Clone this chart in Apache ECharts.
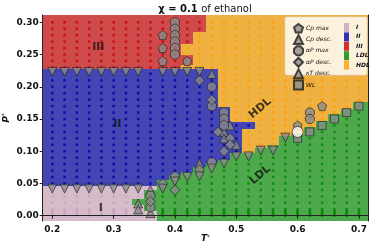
<!DOCTYPE html>
<html><head><meta charset="utf-8">
<script src="https://cdn.jsdelivr.net/npm/echarts@6/dist/echarts.min.js"></script>
<style>html,body{margin:0;padding:0;background:#fff}#c{width:374px;height:249px}</style>
</head><body><div id="c"></div>
<script>
// ---------------- data ----------------
const tCols = [0.20,0.22,0.24,0.26,0.28,0.30,0.32,0.34,0.36,0.38,0.40,0.42,0.44,0.46,0.48,0.50,0.52,0.54,0.56,0.58,0.60,0.62,0.64,0.66,0.68,0.70];
const phaseNames = ['I','II','III','LDL','HDL'];
// phase stack of each column, bottom to top: [phase, upper P]
const colStacks = [
  [['I',0.046],['II',0.227],['III',1]],
  [['I',0.046],['II',0.227],['III',1]],
  [['I',0.046],['II',0.227],['III',1]],
  [['I',0.046],['II',0.227],['III',1]],
  [['I',0.046],['II',0.227],['III',1]],
  [['I',0.046],['II',0.227],['III',1]],
  [['I',0.046],['II',0.227],['III',1]],
  [['I',0.0166],['LDL',0.0255],['I',0.046],['II',0.227],['III',1]],
  [['I',0.007],['LDL',0.040],['I',0.046],['II',0.227],['III',1]],
  [['LDL',0.055],['II',0.227],['III',1]],
  [['LDL',0.063],['II',0.227],['III',1]],
  [['LDL',0.068],['II',0.227],['HDL',0.234],['III',0.249],['HDL',0.267],['III',1]],
  [['LDL',0.076],['II',0.227],['HDL',0.285],['III',1]],
  [['LDL',0.081],['II',0.227],['HDL',1]],
  [['LDL',0.086],['II',0.169],['HDL',1]],
  [['LDL',0.097],['II',0.146],['HDL',1]],
  [['LDL',0.098],['HDL',0.135],['II',0.146],['HDL',1]],
  [['LDL',0.1045],['HDL',1]],
  [['LDL',0.1097],['HDL',1]],
  [['LDL',0.124],['HDL',1]],
  [['LDL',0.126],['HDL',1]],
  [['LDL',0.137],['HDL',1]],
  [['LDL',0.147],['HDL',1]],
  [['LDL',0.157],['HDL',1]],
  [['LDL',0.166],['HDL',1]],
  [['LDL',0.176],['HDL',1]]
];
const pGrid = [0.0,0.0025,0.005,0.0075,0.01,0.02,0.03,0.04,0.05,0.06,0.07,0.08,0.09,0.10,0.11,0.12,0.13,0.14,0.15,0.16,0.17,0.18,0.19,0.20,0.21,0.22,0.23,0.24,0.25,0.26,0.27,0.28,0.29,0.30];

const cpMax   = [[0.38,0.28],[0.38,0.26],[0.38,0.24],[0.42,0.24],[0.60,0.14],[0.64,0.17]];
const cpDesc  = [[0.46,0.22],[0.48,0.13],[0.48,0.12],[0.49,0.14],[0.50,0.11],[0.44,0.081],[0.36,0.04],[0.36,0.004],[0.34,0.019],[0.34,0.0098]];
const aMax    = [[0.40,0.30],[0.40,0.29],[0.40,0.28],[0.40,0.27],[0.40,0.26],[0.40,0.25],[0.46,0.20],[0.46,0.17],[0.48,0.16],[0.48,0.15],[0.48,0.14],[0.62,0.16],[0.62,0.15],[0.46,0.083],[0.40,0.061],[0.36,0.031],[0.36,0.013]];
const aDesc   = [[0.44,0.21],[0.46,0.18],[0.47,0.13],[0.49,0.12],[0.49,0.11],[0.48,0.10],[0.44,0.071],[0.40,0.040],[0.38,0.050],[0.36,0.022]];
const kDesc   = [[0.20,0.223],[0.22,0.223],[0.24,0.223],[0.26,0.223],[0.28,0.223],[0.30,0.223],[0.32,0.223],[0.34,0.223],[0.38,0.223],[0.40,0.223],[0.42,0.223],[0.44,0.223],
                 [0.20,0.042],[0.22,0.042],[0.24,0.042],[0.26,0.042],[0.28,0.042],[0.30,0.042],[0.32,0.042],[0.34,0.042],[0.38,0.042],
                 [0.40,0.053],[0.42,0.060],[0.44,0.061],[0.46,0.073],[0.48,0.081],[0.50,0.092],[0.52,0.092],[0.54,0.101],[0.56,0.101],[0.58,0.121]];
const wl      = [[0.60,0.12],[0.62,0.13],[0.64,0.14],[0.66,0.15],[0.68,0.16],[0.70,0.17]];
const critPt  = [[0.60,0.13]];

const regionText  = ['III','II','I','HDL','LDL'];
const regionT     = [0.275,0.306,0.279,0.539,0.539];
const regionP     = [0.262,0.142,0.0114,0.1666,0.063];
const regionAngle = [0,0,0,40,40];

const xTicks = [0.2,0.3,0.4,0.5,0.6,0.7];
const yTicks = [0.00,0.05,0.10,0.15,0.20,0.25,0.30];

// ---------------- styles ----------------
const X_MIN = 0.1843, X_MAX = 0.7153, Y_MIN = -0.0082, Y_MAX = 0.3113;
const fillColors = {I:'#d6bcca', II:'#4446b4', III:'#cf4a4a', LDL:'#4ea84c', HDL:'#efb142'};
const dotColors  = {I:'#c9a2bf', II:'#0000aa', III:'#cc0000', LDL:'#008800', HDL:'#ff9f00'};

// build fill rects
const rects = [];
tCols.forEach((t, i) => {
  const x0 = i === 0 ? X_MIN : t - 0.01;
  const x1 = i === tCols.length - 1 ? X_MAX : t + 0.01;
  let lo = Y_MIN;
  colStacks[i].forEach(([ph, top]) => {
    const hi = Math.min(top, Y_MAX);
    rects.push([x0, x1, lo, hi, phaseNames.indexOf(ph)]);
    lo = hi;
  });
});
// build dots
const dots = {I:[],II:[],III:[],LDL:[],HDL:[]};
tCols.forEach((t, i) => {
  pGrid.forEach(p => {
    const seg = colStacks[i].find(s => p < s[1]);
    dots[seg[0]].push([t, p]);
  });
});

const tri = 'triangle';
const pent = 'path://M0,-1L0.951,-0.309L0.588,0.809L-0.588,0.809L-0.951,-0.309Z';
const oct = 'path://M-0.414,-1L0.414,-1L1,-0.414L1,0.414L0.414,1L-0.414,1L-1,0.414L-1,-0.414Z';
const mStyle = {color:'#8c8c8c', borderColor:'#1e1e1e', borderWidth:0.8};
function mk(name, data, symbol, size, rot){
  return {type:'scatter', name, data, symbol, symbolSize:size, symbolRotate:rot||0, itemStyle:mStyle, z:5, silent:true, animation:false};
}

const series = [
  {type:'custom', name:'fill', data:rects, clip:true, silent:true, animation:false, z:1,
   encode:{x:[0,1], y:[2,3]},
   renderItem(params, api){
     const a = api.coord([api.value(0), api.value(3)]);
     const b = api.coord([api.value(1), api.value(2)]);
     const x = Math.round(a[0]), y = Math.round(a[1]);
     return {type:'rect', shape:{x, y, width:Math.round(b[0])-x, height:Math.round(b[1])-y},
             style:{fill: fillColors[phaseNames[api.value(4)]]}};
   }}
];
phaseNames.forEach(ph => series.push({type:'scatter', name:ph, data:dots[ph], symbol:'rect', symbolSize:2.5,
  itemStyle:{color:dotColors[ph]}, z:3, silent:true, animation:false}));
series.push(mk('Cp max', cpMax, pent, 9));
series.push(mk('Cp desc.', cpDesc, tri, 9));
series.push(mk('αP max', aMax, oct, 9));
series.push(mk('αP desc.', aDesc, 'diamond', 10));
series.push(mk('κT desc.', kDesc, tri, 9, 180));
series.push(mk('WL', wl, 'rect', 8));
series.push({type:'scatter', name:'crit', data:critPt, symbol:'circle', symbolSize:11,
  itemStyle:{color:'#ffffff', borderColor:'#111', borderWidth:0.8}, z:6, silent:true, animation:false});
series.push({type:'scatter', name:'labels', symbolSize:0, silent:true, animation:false, z:7,
  data: regionText.map((s, i) => ({value:[regionT[i], regionP[i]], name:s,
    label:{show:true, position:'inside', formatter:s, rotate:regionAngle[i], fontFamily:'DejaVu Sans', fontWeight:'bold', fontSize:11, color:'#111'}}))});

const axisLine = {show:true, lineStyle:{color:'#222', width:1}};
const option = {
  animation:false,
  grid:{left:42.7, right:5.7, top:15, bottom:28, containLabel:false, outerBoundsMode:'none'},
  xAxis:[
    {type:'value', min:X_MIN, max:X_MAX, z:10, axisLine, splitLine:{show:false},
     axisTick:{show:true, customValues:xTicks, length:3, lineStyle:{color:'#222'}},
     axisLabel:{customValues:xTicks, formatter:v=>v.toFixed(1), fontFamily:'DejaVu Sans', fontWeight:'bold', fontSize:9, color:'#111', margin:4},
     name:'{t|T}{s|*}', nameLocation:'middle', nameGap:13, nameMoveOverlap:false,
     nameTextStyle:{rich:{t:{fontFamily:'DejaVu Sans', fontWeight:'bold', fontStyle:'italic', fontSize:9, color:'#111'},
                          s:{fontFamily:'DejaVu Sans', fontSize:6, color:'#111', verticalAlign:'top', padding:[0,0,4,0]}}}},
    {type:'value', position:'top', min:X_MIN, max:X_MAX, z:10, axisLine, axisTick:{show:false}, axisLabel:{show:false}, splitLine:{show:false}}
  ],
  yAxis:[
    {type:'value', min:Y_MIN, max:Y_MAX, z:10, axisLine, splitLine:{show:false},
     axisTick:{show:true, customValues:yTicks, length:3, lineStyle:{color:'#222'}},
     axisLabel:{customValues:yTicks, formatter:v=>v.toFixed(2), fontFamily:'DejaVu Sans', fontWeight:'bold', fontSize:9, color:'#111', margin:4},
     name:'{t|P}{s|*}', nameLocation:'middle', nameGap:31, nameRotate:90, nameMoveOverlap:false,
     nameTextStyle:{rich:{t:{fontFamily:'DejaVu Sans', fontWeight:'bold', fontStyle:'italic', fontSize:9, color:'#111'},
                          s:{fontFamily:'DejaVu Sans', fontSize:6, color:'#111', padding:[0,0,4,0]}}}},
    {type:'value', position:'right', min:Y_MIN, max:Y_MAX, z:10, axisLine, axisTick:{show:false}, axisLabel:{show:false}, splitLine:{show:false}}
  ],
  legend:[
    {data:['Cp max','Cp desc.','αP max','αP desc.','κT desc.','WL'], orient:'vertical', left:288, top:18, z:20,
     itemWidth:9, itemHeight:9, itemGap:0.4, selectedMode:false,
     textStyle:{fontFamily:'DejaVu Sans', fontStyle:'italic', fontSize:6, color:'#111', padding:[0,0,0,-2]}},
    {data:['I','II','III','LDL','HDL'], orient:'vertical', left:339, top:18, z:20,
     itemWidth:5, itemHeight:9, itemGap:0.4, selectedMode:false,
     textStyle:{fontFamily:'DejaVu Sans', fontStyle:'italic', fontWeight:'bold', fontSize:6, color:'#111', padding:[0,0,0,2]}}
  ],
  graphic:[
    {type:'rect', z:15, shape:{x:285, y:17, width:82, height:58, r:2}, style:{fill:'rgba(255,255,255,0.82)', stroke:'#dcdcdc', lineWidth:0.6}},
    {type:'text', z:20, x:205, y:9, style:{text:'{b|χ = 0.1} {n|of ethanol}', align:'center', verticalAlign:'middle',
      rich:{b:{fontFamily:'DejaVu Sans', fontWeight:'bold', fontSize:10, fill:'#111'}, n:{fontFamily:'DejaVu Sans', fontSize:10, fill:'#111'}}}}
  ],
  series
};
const chart = echarts.init(document.getElementById('c'), null, {renderer:'canvas'});
chart.setOption(option);
</script></body></html>
